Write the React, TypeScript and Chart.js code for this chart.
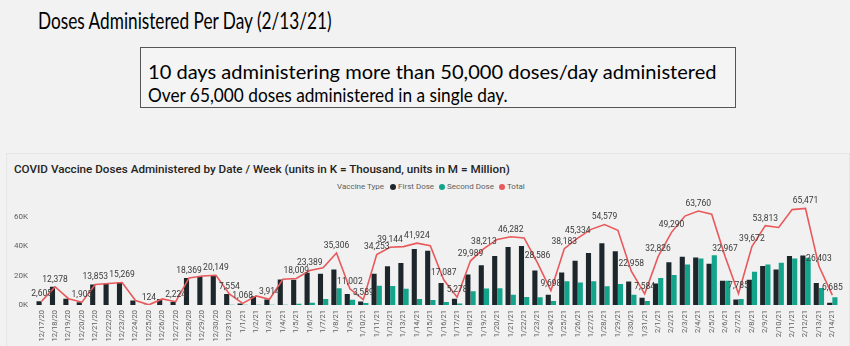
import React, { useEffect, useRef, useState } from 'react';
import { Chart, registerables } from 'chart.js';
Chart.register(...registerables);

const dates = [
  '12/17/20', '12/18/20', '12/19/20', '12/20/20', '12/21/20', '12/22/20', '12/23/20', '12/24/20', '12/25/20', '12/26/20',
  '12/27/20', '12/28/20', '12/29/20', '12/30/20', '12/31/20', '1/1/21', '1/2/21', '1/3/21', '1/4/21', '1/5/21',
  '1/6/21', '1/7/21', '1/8/21', '1/9/21', '1/10/21', '1/11/21', '1/12/21', '1/13/21', '1/14/21', '1/15/21',
  '1/16/21', '1/17/21', '1/18/21', '1/19/21', '1/20/21', '1/21/21', '1/22/21', '1/23/21', '1/24/21', '1/25/21',
  '1/26/21', '1/27/21', '1/28/21', '1/29/21', '1/30/21', '1/31/21', '2/1/21', '2/2/21', '2/3/21', '2/4/21',
  '2/5/21', '2/6/21', '2/7/21', '2/8/21', '2/9/21', '2/10/21', '2/11/21', '2/12/21', '2/13/21', '2/14/21',
];

const firstDose = [
  2605, 12378, 4300, 1905, 13853, 14600, 15269, 3000, 124, 4100,
  2224, 18369, 19700, 20149, 7454, 968, 6000, 3714, 17300, 17109,
  21900, 21200, 24000, 7400, 2300, 21200, 26200, 28500, 37900, 36800,
  15000, 4300, 20700, 27000, 33200, 39400, 40000, 23400, 7000, 22000,
  30000, 35200, 41800, 36400, 16000, 4900, 14500, 29000, 32800, 32300,
  27900, 16500, 3700, 17100, 26400, 24000, 33200, 33500, 14900, 1500,
];

const secondDose = [
  0, 0, 0, 0, 0, 0, 0, 0, 0, 0,
  0, 0, 0, 0, 100, 100, 200, 200, 200, 900,
  1489, 4000, 11306, 3602, 1289, 13053, 12944, 11100, 4024, 3400,
  2087, 978, 9289, 11213, 11300, 6882, 5500, 5186, 2698, 16183,
  15334, 16100, 12779, 14300, 6958, 2684, 18326, 20290, 27500, 31460,
  33700, 16467, 4085, 22572, 27413, 28600, 31500, 31971, 11503, 5185,
];

const totalDoses = [
  2605, 12378, 4300, 1905, 13853, 14600, 15269, 3000, 124, 4100,
  2224, 18369, 19700, 20149, 7554, 1068, 6200, 3914, 17500, 18009,
  23389, 25200, 35306, 11002, 3589, 34253, 39144, 39600, 41924, 40200,
  17087, 5278, 29989, 38213, 44500, 46282, 45500, 28586, 9698, 38183,
  45334, 51300, 54579, 50700, 22958, 7584, 32826, 49290, 60300, 63760,
  61600, 32967, 7785, 39672, 53813, 52600, 64700, 65471, 26403, 6685,
];

const labeledDates = [
  '12/17/20', '12/18/20', '12/20/20', '12/21/20', '12/23/20', '12/25/20', '12/27/20', '12/28/20', '12/30/20', '12/31/20',
  '1/1/21', '1/3/21', '1/5/21', '1/6/21', '1/8/21', '1/9/21', '1/10/21', '1/11/21', '1/12/21', '1/14/21',
  '1/16/21', '1/17/21', '1/18/21', '1/19/21', '1/21/21', '1/23/21', '1/24/21', '1/25/21', '1/26/21', '1/28/21',
  '1/30/21', '1/31/21', '2/1/21', '2/2/21', '2/4/21', '2/6/21', '2/7/21', '2/8/21', '2/9/21', '2/12/21',
  '2/13/21', '2/14/21',
];

const yTickValues = [0, 20000, 40000, 60000];
const seriesNames = ['First Dose', 'Second Dose', 'Total'];
const seriesColors = ['#1d272b', '#13a48c', '#e8595b'];

const noteLine1 = '10 days administering more than 50,000 doses/day administered';
const noteLine2 = 'Over 65,000 doses administered in a single day.';

const FitText = ({ text, font, width, left, top, color }: any) => {
  const [sx, setSx] = useState(1);
  useEffect(() => {
    let alive = true;
    const measure = () => {
      if (!alive) return;
      const c = document.createElement('canvas').getContext('2d')!;
      c.font = font;
      const w = c.measureText(text).width;
      if (w > 0) setSx(width / w);
    };
    measure();
    (document as any).fonts.load(font, text).then(measure, measure);
    return () => { alive = false; };
  }, [text, font, width]);
  return (
    <div
      style={{
        position: 'absolute', left, top, font, color, whiteSpace: 'nowrap', lineHeight: 1,
        transform: `scaleX(${sx})`, transformOrigin: 'left top',
      }}
    >
      {text}
    </div>
  );
};

const totalLabelsPlugin = {
  id: 'totalLabels',
  afterDatasetsDraw(chart: any) {
    const meta = chart.getDatasetMeta(2);
    const ctx = chart.ctx;
    ctx.save();
    ctx.font = '8.5px Roboto';
    ctx.fillStyle = '#3b3a39';
    ctx.textAlign = 'center';
    ctx.textBaseline = 'bottom';
    meta.data.forEach((pt: any, i: number) => {
      if (labeledDates.includes(dates[i])) {
        ctx.fillText(totalDoses[i].toLocaleString('en-US'), pt.x, pt.y - 3);
      }
    });
    ctx.restore();
  },
};

export default function App() {
  const ref = useRef<HTMLCanvasElement>(null);
  useEffect(() => {
    let chart: any = null;
    let alive = true;
    const build = () => {
      if (!alive || chart) return;
      chart = new Chart(ref.current!, {
        type: 'bar',
        data: {
          labels: dates,
          datasets: [
            {
              type: 'bar', label: seriesNames[0], data: firstDose, backgroundColor: seriesColors[0],
              categoryPercentage: 0.78, barPercentage: 0.98, order: 1,
            },
            {
              type: 'bar', label: seriesNames[1], data: secondDose, backgroundColor: seriesColors[1],
              categoryPercentage: 0.78, barPercentage: 0.98, order: 1,
            },
            {
              type: 'line', label: seriesNames[2], data: totalDoses, borderColor: seriesColors[2],
              borderWidth: 1.6, pointRadius: 0, tension: 0, order: 0,
            } as any,
          ],
        },
        options: {
          animation: false,
          responsive: false,
          maintainAspectRatio: false,
          layout: { padding: { top: 11, right: 11, left: 0, bottom: 0 } },
          plugins: { legend: { display: false }, tooltip: { enabled: false }, title: { display: false } },
          scales: {
            x: {
              grid: { display: false, drawTicks: false },
              border: { display: false },
              ticks: {
                autoSkip: false, minRotation: 90, maxRotation: 90, padding: 5,
                font: { family: 'Roboto', size: 7.5 }, color: '#605e5c',
              },
              afterFit: (s: any) => { s.height = 41; },
            },
            y: {
              min: 0, max: 70000,
              grid: { display: false, drawTicks: false },
              border: { display: false },
              ticks: {
                padding: 7,
                callback: (v: any) => `${Number(v) / 1000}K`,
                font: { family: 'Roboto', size: 8 }, color: '#605e5c',
              },
              afterBuildTicks: (s: any) => { s.ticks = yTickValues.map((v) => ({ value: v })); },
              afterFit: (s: any) => { s.width = 35; },
            },
          },
        },
        plugins: [totalLabelsPlugin],
      });
    };
    (document as any).fonts.load('8px Roboto').then(build, build);
    return () => { alive = false; if (chart) chart.destroy(); };
  }, []);

  return (
    <div style={{ position: 'fixed', left: 0, top: 0, width: 850, height: 346, background: '#f2f2f2', overflow: 'hidden' }}>
      <FitText text="Doses Administered Per Day (2/13/21)" font="24px Lato" width={295} left={38} top={8} color="#000" />
      <div style={{ position: 'absolute', left: 140, top: 47, width: 594, height: 59, border: '1px solid #555', background: '#f4f4f4' }} />
      <FitText text={noteLine1} font="20px Lato" width={569} left={148} top={61} color="#000" />
      <FitText text={noteLine2} font="20px Lato" width={360} left={148} top={84} color="#000" />
      <div style={{ position: 'absolute', left: 6, top: 153, width: 842, height: 200, border: '1px solid #e4e4e4', background: '#f1f1f1' }} />
      <FitText
        text="COVID Vaccine Doses Administered by Date / Week (units in K = Thousand, units in M = Million)"
        font="500 11px Roboto" width={496} left={14} top={164} color="#252423"
      />
      <div style={{ position: 'absolute', left: 337, top: 183, display: 'flex', alignItems: 'center', font: '8px Roboto', color: '#605e5c', whiteSpace: 'nowrap', lineHeight: 1 }}>
        <span style={{ marginRight: 6 }}>Vaccine Type</span>
        {seriesNames.map((n, i) => (
          <span key={n} style={{ display: 'flex', alignItems: 'center', marginRight: 5 }}>
            <span style={{ width: 6, height: 6, borderRadius: 3, background: seriesColors[i], marginRight: 2 }} />
            {n}
          </span>
        ))}
      </div>
      <canvas ref={ref} width={850} height={156} style={{ position: 'absolute', left: 0, top: 190, width: 850, height: 156 }} />
    </div>
  );
}
